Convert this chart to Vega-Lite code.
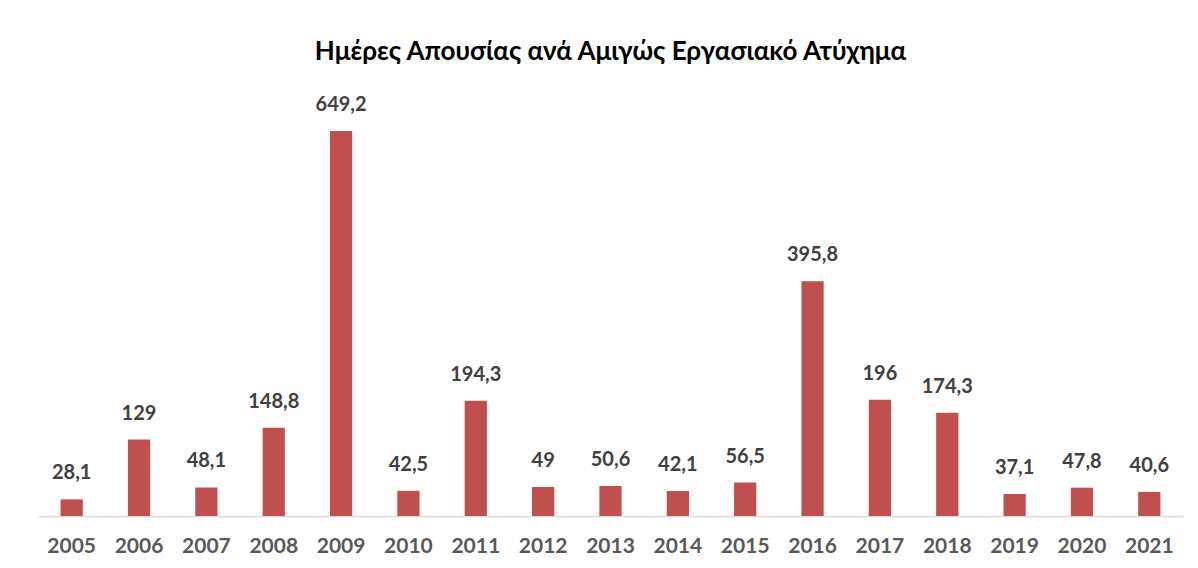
{
  "$schema": "https://vega.github.io/schema/vega-lite/v6.json",
  "width": 1145,
  "height": 415,
  "autosize": "none",
  "padding": {"left": 38, "top": 101, "right": 15, "bottom": 52},
  "background": "white",
  "config": {
    "view": {"stroke": null},
    "locale": {"number": {"decimal": ",", "thousands": ".", "grouping": [3], "currency": ["", " €"]}}
  },
  "title": {
    "text": "Ημέρες Απουσίας ανά Αμιγώς Εργασιακό Ατύχημα",
    "font": "Lato",
    "fontSize": 26,
    "fontWeight": "bold",
    "color": "#000000",
    "anchor": "middle",
    "offset": 30
  },
  "data": {
    "values": [
      {"year": "2005", "days": 28.1},
      {"year": "2006", "days": 129},
      {"year": "2007", "days": 48.1},
      {"year": "2008", "days": 148.8},
      {"year": "2009", "days": 649.2},
      {"year": "2010", "days": 42.5},
      {"year": "2011", "days": 194.3},
      {"year": "2012", "days": 49},
      {"year": "2013", "days": 50.6},
      {"year": "2014", "days": 42.1},
      {"year": "2015", "days": 56.5},
      {"year": "2016", "days": 395.8},
      {"year": "2017", "days": 196},
      {"year": "2018", "days": 174.3},
      {"year": "2019", "days": 37.1},
      {"year": "2020", "days": 47.8},
      {"year": "2021", "days": 40.6}
    ]
  },
  "encoding": {
    "x": {
      "field": "year",
      "type": "nominal",
      "scale": {"paddingInner": 0.67, "paddingOuter": 0.335},
      "axis": {
        "title": null,
        "labelAngle": 0,
        "labelFont": "Lato",
        "labelFontSize": 21,
        "labelFontWeight": "bold",
        "labelColor": "#595959",
        "labelPadding": 19,
        "ticks": false,
        "domainColor": "#D9D9D9",
        "domainWidth": 1.5
      }
    },
    "y": {
      "field": "days",
      "type": "quantitative",
      "scale": {"domain": [0, 700]},
      "axis": null
    }
  },
  "layer": [
    {"mark": {"type": "bar", "color": "#C0504D"}},
    {
      "mark": {
        "type": "text",
        "font": "Lato",
        "fontSize": 20,
        "fontWeight": "bold",
        "color": "#404040",
        "baseline": "middle",
        "dy": -26
      },
      "encoding": {"text": {"field": "days", "type": "quantitative", "format": "~f"}}
    }
  ]
}
